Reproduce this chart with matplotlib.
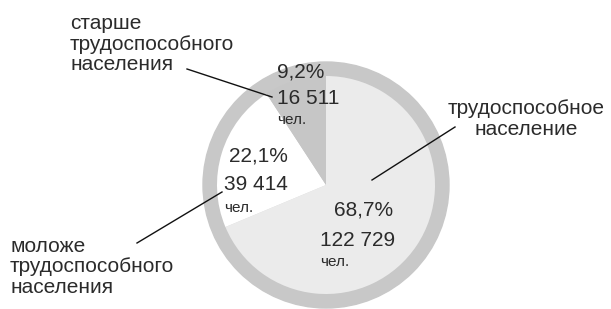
import numpy as np
import matplotlib.pyplot as plt
from matplotlib.patches import Circle

plt.rcParams['font.family'] = ['Liberation Sans', 'DejaVu Sans']

# data
shares = [68.7, 22.1, 9.2]
people = ['122 729', '39 414', '16 511']
pct_labels = ['68,7%', '22,1%', '9,2%']
groups = ['трудоспособное\nнаселение',
          'моложе\nтрудоспособного\nнаселения',
          'старше\nтрудоспособного\nнаселения']
colors = ['#ebebeb', '#ffffff', '#c6c6c6']
txt = '#2b2b2b'

W, H = 611, 309
fig = plt.figure(figsize=(W / 100, H / 100), dpi=100)
ax = fig.add_axes([0, 0, 1, 1])

def Y(y):
    return H - y

cx, cy = 326, Y(185)
ax.add_patch(Circle((cx, cy), 123, color='#c8c8c8', zorder=0))
ax.pie(shares, colors=colors, startangle=90, counterclock=False,
       center=(cx, cy), radius=109, frame=True,
       wedgeprops=dict(linewidth=0))
ax.set_xlim(0, W)
ax.set_ylim(0, H)
ax.set_aspect('equal')
ax.axis('off')

fs = 15
# values inside slices: (x number, x pct, y pct, y number, y 'чел.')
inside = [(320, 334, 210, 240, 262),
          (224, 229, 156, 185, 208),
          (277, 277, 72, 98, 120)]
for i, (xn, xp, yp, yn, yc) in enumerate(inside):
    ax.text(xp, Y(yp), pct_labels[i], fontsize=fs, color=txt, va='center', ha='left')
    ax.text(xn, Y(yn), people[i], fontsize=fs, color=txt, va='center', ha='left')
    ax.text(xn, Y(yc), 'чел.', fontsize=11, color=txt, va='center', ha='left')

# group labels
ax.text(526, Y(119), groups[0], fontsize=fs, color=txt, ha='center', va='center',
        linespacing=1.1)
ax.text(10, Y(267), groups[1], fontsize=fs, color=txt, ha='left', va='center',
        linespacing=1.1)
ax.text(70, Y(44), groups[2], fontsize=fs, color=txt, ha='left', va='center',
        linespacing=1.1)

# leader lines
ax.plot([455, 372], [Y(127), Y(180)], color='#111111', lw=1)
ax.plot([137, 222], [Y(243), Y(192)], color='#111111', lw=1)
ax.plot([187, 272], [Y(69), Y(97)], color='#111111', lw=1)

fig.savefig('out.png', dpi=100)
